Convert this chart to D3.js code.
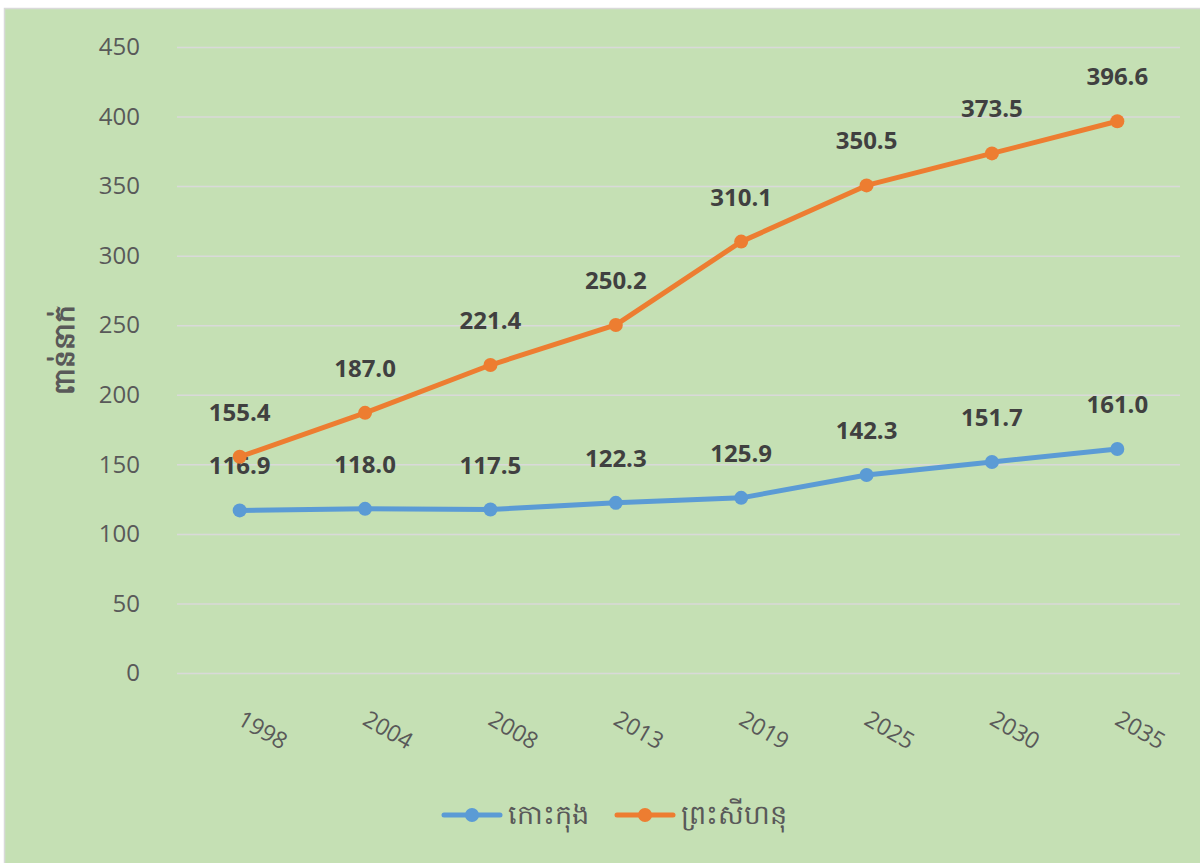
<!DOCTYPE html>
<html>
<head>
<meta charset="utf-8">
<script src="https://cdnjs.cloudflare.com/ajax/libs/d3/7.8.5/d3.min.js"></script>
<style>
  html, body { margin: 0; padding: 0; background: #ffffff; }
  svg { display: block; }
  text { font-family: "Open Sans", "Noto Sans", "DejaVu Sans", sans-serif; }
</style>
</head>
<body>
<div id="chart"></div>
<script>
// 数据
const years = ['1998', '2004', '2008', '2013', '2019', '2025', '2030', '2035'];
const kohKong = [116.9, 118.0, 117.5, 122.3, 125.9, 142.3, 151.7, 161.0];
const sihanouk = [155.4, 187.0, 221.4, 250.2, 310.1, 350.5, 373.5, 396.6];
const yTicks = [0, 50, 100, 150, 200, 250, 300, 350, 400, 450];
const seriesNames = ['កោះកុង', 'ព្រះសីហនុ'];
const yTitle = 'ពាន់នាក់';

const width = 1200, height = 863;
const colors = ['#5B9BD5', '#ED7D31'];

const svg = d3.select('#chart').append('svg')
  .attr('width', width)
  .attr('height', height);

// 背景
svg.append('rect')
  .attr('x', 4.5).attr('y', 8.5)
  .attr('width', width).attr('height', height)
  .attr('fill', '#C5E0B4')
  .attr('stroke', '#D9D9D9')
  .attr('stroke-width', 1.5);

// 比例尺
const x = d3.scaleBand().domain(years).range([177, 1180]);
const y = d3.scaleLinear().domain([0, 450]).range([673, 47]);

// Y轴 + 网格线
const yAxis = svg.append('g')
  .attr('transform', 'translate(177,0)')
  .call(d3.axisLeft(y).tickValues(yTicks).tickSize(-(1180 - 177)).tickPadding(37));
yAxis.select('.domain').remove();
yAxis.selectAll('.tick line')
  .attr('stroke', '#D9D9D9')
  .attr('stroke-width', 1.5);
yAxis.selectAll('.tick text')
  .attr('fill', '#595959')
  .style('font-size', '24px');

// X轴标签
svg.append('g').selectAll('text')
  .data(years)
  .enter()
  .append('text')
  .attr('transform', d => `translate(${x(d) + x.bandwidth() / 2 + 23}, 730) rotate(30)`)
  .attr('text-anchor', 'middle')
  .attr('dy', '0.35em')
  .attr('fill', '#595959')
  .style('font-size', '23px')
  .text(d => d);

// Y轴标题
svg.append('text')
  .attr('transform', 'translate(64,350) rotate(-90)')
  .attr('text-anchor', 'middle')
  .attr('dy', '0.35em')
  .attr('fill', '#595959')
  .style('font-size', '28px')
  .style('font-weight', 'bold')
  .text(yTitle);

// 折线
const line = d3.line()
  .x((d, i) => x(years[i]) + x.bandwidth() / 2)
  .y(d => y(d));

[kohKong, sihanouk].forEach((values, k) => {
  const g = svg.append('g');
  g.append('path')
    .datum(values)
    .attr('d', line)
    .attr('fill', 'none')
    .attr('stroke', colors[k])
    .attr('stroke-width', 5)
    .attr('stroke-linejoin', 'round');

  g.selectAll('circle')
    .data(values)
    .enter()
    .append('circle')
    .attr('cx', (d, i) => x(years[i]) + x.bandwidth() / 2)
    .attr('cy', d => y(d))
    .attr('r', 7)
    .attr('fill', colors[k]);

  g.selectAll('text')
    .data(values)
    .enter()
    .append('text')
    .attr('x', (d, i) => x(years[i]) + x.bandwidth() / 2)
    .attr('y', d => y(d) - 36)
    .attr('text-anchor', 'middle')
    .attr('fill', '#404040')
    .style('font-size', '24px')
    .style('font-weight', 'bold')
    .text(d => d.toFixed(1));
});

// 图例
const legend = svg.append('g').attr('transform', 'translate(444,815)');
let legendOffset = 0;
seriesNames.forEach((name, k) => {
  const item = legend.append('g').attr('transform', `translate(${legendOffset},0)`);
  item.append('line')
    .attr('x1', 0).attr('x2', 56)
    .attr('y1', 0).attr('y2', 0)
    .attr('stroke', colors[k])
    .attr('stroke-width', 5)
    .attr('stroke-linecap', 'round');
  item.append('circle')
    .attr('cx', 28).attr('cy', 0)
    .attr('r', 7)
    .attr('fill', colors[k]);
  const label = item.append('text')
    .attr('x', 64)
    .attr('y', 0)
    .attr('dy', '0.35em')
    .attr('fill', '#595959')
    .style('font-size', '27px')
    .text(name);
  legendOffset += 64 + label.node().getComputedTextLength() + 28;
});
</script>
</body>
</html>
